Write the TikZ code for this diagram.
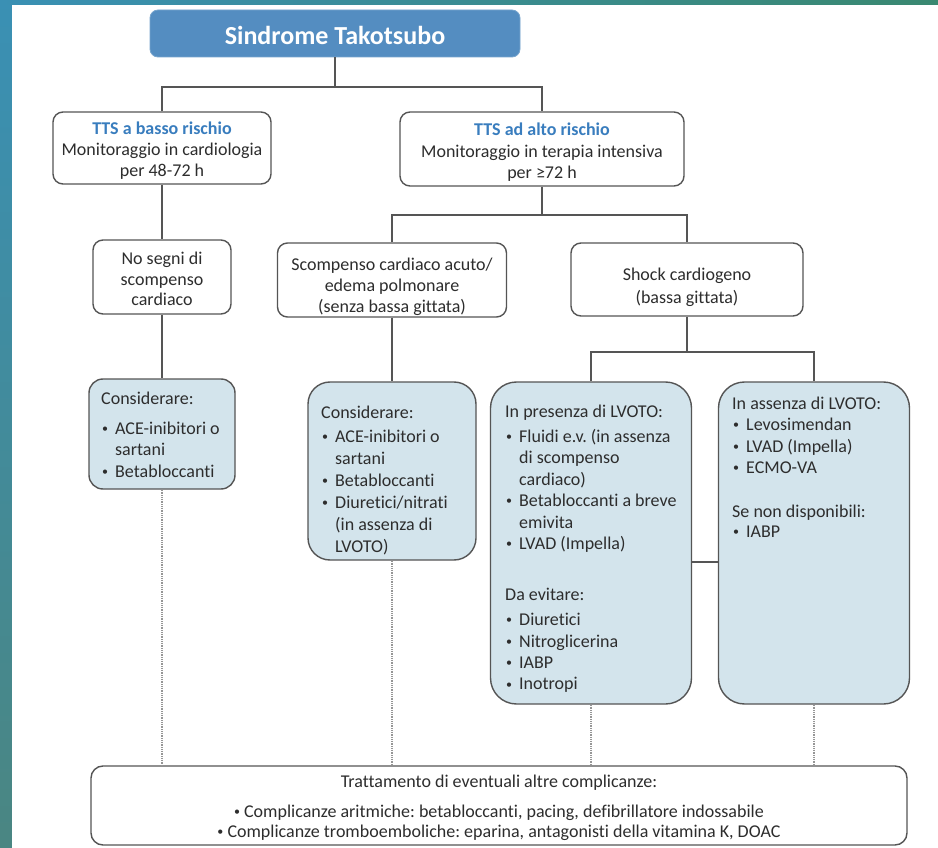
\documentclass[tikz,border=0pt]{standalone}
\usepackage{fontspec}
\setmainfont{Carlito}[Ligatures=NoCommon]
\definecolor{titlefill}{RGB}{84,141,193}
\definecolor{ttsblue}{RGB}{57,125,190}
\definecolor{lbox}{RGB}{211,228,236}
\definecolor{edgec}{RGB}{85,85,85}
\definecolor{txtc}{RGB}{45,45,45}
\definecolor{dotc}{RGB}{150,150,150}
\definecolor{fa}{RGB}{58,144,180}
\definecolor{fb}{RGB}{58,136,112}
\definecolor{fc}{RGB}{74,134,130}
\newcommand\bdot{\raisebox{1.6pt}{\fontsize{12}{12}\selectfont •}}
\newcommand\bl[1]{\makebox[14pt][l]{\hspace*{1pt}\bdot}#1}
\newcommand\cl[1]{\hspace*{14pt}#1}
\frenchspacing
\begin{document}
\frenchspacing
\begin{tikzpicture}[x=1pt,y=-1pt,
  wbox/.style={draw=edgec, line width=1.4pt, fill=white, rounded corners=10pt, inner sep=0pt},
  bbox/.style={draw=edgec, line width=1.4pt, fill=lbox, inner sep=0pt},
  ctext/.style={inner sep=0pt, anchor=base, text=txtc, font=\fontsize{18}{21}\selectfont},
  ltext/.style={inner sep=0pt, anchor=base west, text=txtc, font=\fontsize{18}{21.5}\selectfont},
  conn/.style={draw=edgec, line width=1.4pt},
  dotl/.style={draw=dotc, line width=1.3pt, dash pattern=on 1pt off 0.8pt}]

\useasboundingbox (0,0) rectangle (938,848);
\shade[top color=fa, bottom color=fc] (0,0) rectangle (12,848);
\shade[left color=fa, right color=fb] (0,0) rectangle (938,5);
\fill[white] (12,5) rectangle (938,848);

% title
\node[fill=titlefill, draw=titlefill!80!white, line width=0.8pt, rounded corners=8pt, minimum width=370pt, minimum height=47pt, inner sep=0pt] (title) at (335,33.5) {};
\node[inner sep=0pt, anchor=base, text=white, font=\bfseries\fontsize{26}{30}\selectfont] (ttitle) at (335,44.5) {Sindrome Takotsubo};

% white boxes
\node[wbox, minimum width=218pt, minimum height=72pt] (basso) at (162,148) {};
\node[wbox, minimum width=284pt, minimum height=74pt] (alto) at (542,149) {};
\node[wbox, minimum width=138pt, minimum height=74pt] (nosegni) at (162,277) {};
\node[wbox, minimum width=229pt, minimum height=74pt] (scomp) at (392,280) {};
\node[wbox, minimum width=232pt, minimum height=73pt] (shock) at (687,279.5) {};

% blue boxes
\node[bbox, rounded corners=14pt, minimum width=146pt, minimum height=110pt] (c1) at (162,434) {};
\node[bbox, rounded corners=22pt, minimum width=168pt, minimum height=178pt] (c2) at (392,471) {};
\node[bbox, rounded corners=26pt, minimum width=201pt, minimum height=322pt] (c3) at (591,543) {};
\node[bbox, rounded corners=26pt, minimum width=191pt, minimum height=322pt] (c4) at (814,543) {};

% bottom box
\node[wbox, rounded corners=12pt, minimum width=816pt, minimum height=79pt] (bottom) at (499,805.5) {};

% connectors
\coordinate (j1) at (335,87);
\coordinate (j2) at (542,215);
\coordinate (j3) at (687,352);
\coordinate (mid) at (0,562);
\draw[conn] (title.south) -- (j1);
\draw[conn] (basso.north) |- (j1) -| (alto.north);
\draw[conn] (basso.south) -- (nosegni.north);
\draw[conn] (alto.south) -- (j2);
\draw[conn] (scomp.north) |- (j2) -| (shock.north);
\draw[conn] (nosegni.south) -- (c1.north);
\draw[conn] (scomp.south) -- (c2.north);
\draw[conn] (shock.south) -- (j3);
\draw[conn] (c3.north) |- (j3) -| (c4.north);
\draw[conn] (c3.east |- mid) -- (c4.west |- mid);
\draw[dotl] (c1.south) -- (c1.south |- bottom.north);
\draw[dotl] (c2.south) -- (c2.south |- bottom.north);
\draw[dotl] (c3.south) -- (c3.south |- bottom.north);
\draw[dotl] (c4.south) -- (c4.south |- bottom.north);

% texts in white boxes
\node[ctext] (tbasso) at (162,135) {\parbox[t]{260pt}{\centering\leavevmode{\color{ttsblue}\bfseries TTS a basso rischio}\\Monitoraggio in cardiologia\\per 48-72 h}};
\node[ctext, font=\fontsize{18}{21.5}\selectfont] (talto) at (542,136) {\parbox[t]{300pt}{\centering\leavevmode{\color{ttsblue}\bfseries TTS ad alto rischio}\\Monitoraggio in terapia intensiva\\per ≥72 h}};
\node[ctext] (tnosegni) at (162,264) {\parbox[t]{200pt}{\centering No segni di\\scompenso\\cardiaco}};
\node[ctext] (tscomp) at (392,270) {\parbox[t]{260pt}{\centering Scompenso cardiaco acuto/\\edema polmonare\\(senza bassa gittata)}};
\node[ctext, font=\fontsize{18}{23}\selectfont] (tshock) at (687,280) {\parbox[t]{260pt}{\centering Shock cardiogeno\\(bassa gittata)}};

% texts in blue boxes
\node[ltext] (tc1) at (101,404) {\parbox[t]{140pt}{\raggedright Considerare:\\[8.5pt]\bl{ACE-inibitori o}\\\cl{sartani}\\\bl{Betabloccanti}}};
\node[ltext, font=\fontsize{18}{22}\selectfont] (tc2) at (321,418) {\parbox[t]{160pt}{\raggedright Considerare:\\[2pt]\bl{ACE-inibitori o}\\\cl{sartani}\\\bl{Betabloccanti}\\\bl{Diuretici/nitrati}\\\cl{(in assenza di}\\\cl{LVOTO)}}};
\node[ltext] (tc3) at (505,417) {\parbox[t]{190pt}{\raggedright In presenza di LVOTO:\\[3.5pt]\bl{Fluidi e.v. (in assenza}\\\cl{di scompenso}\\\cl{cardiaco)}\\\bl{Betabloccanti a breve}\\\cl{emivita}\\\bl{LVAD (Impella)}\\[29.5pt]Da evitare:\\[3.5pt]\bl{Diuretici}\\\bl{Nitroglicerina}\\\bl{IABP}\\\bl{Inotropi}}};
\node[ltext] (tc4) at (732,409) {\parbox[t]{175pt}{\raggedright In assenza di LVOTO:\\\bl{Levosimendan}\\\bl{LVAD (Impella)}\\\bl{ECMO-VA}\\[22.5pt]Se non disponibili:\\[-1.5pt]\bl{IABP}}};

% bottom text
\node[ctext, font=\fontsize{18}{20}\selectfont] (tbottom) at (499,787) {\parbox[t]{800pt}{\centering Trattamento di eventuali altre complicanze:\\[10pt]\bdot\ Complicanze aritmiche: betabloccanti, pacing, defibrillatore indossabile\\\bdot\ Complicanze tromboemboliche: eparina, antagonisti della vitamina K, DOAC}};
\end{tikzpicture}
\end{document}
